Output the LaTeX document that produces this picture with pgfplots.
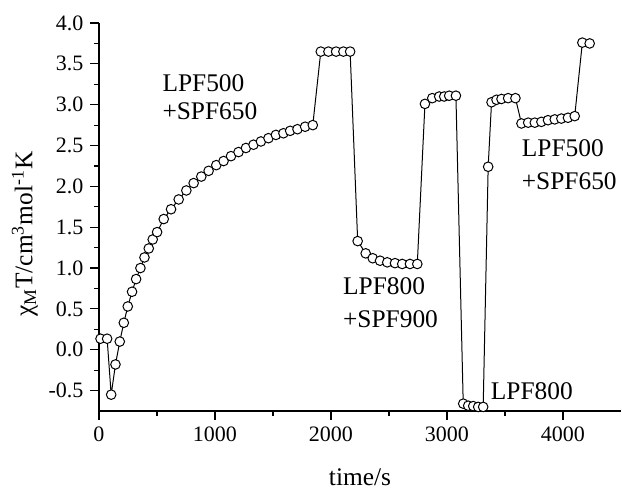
\documentclass[border=0pt]{standalone}
\usepackage{fontspec}
\setmainfont{Liberation Serif}
\usepackage{pgfplots}
\pgfplotsset{compat=1.18}
\begin{document}
\begin{tikzpicture}
\path[use as bounding box] (-49.5pt,-38.5pt) rectangle (261.5pt,205.5pt);
\begin{axis}[
  scale only axis, width=261pt, height=194pt,
  at={(0,0)}, anchor=south west,
  xmin=0, xmax=4500, ymin=-0.75, ymax=4.0,
  axis x line*=bottom, axis y line*=left,
  axis line style={line width=0.7pt},
  tick align=outside,
  major tick length=4.3pt, minor tick length=2.4pt,
  every tick/.style={black, line width=0.6pt},
  xtick={0,1000,2000,3000,4000},
  ytick={-0.5,0,0.5,1,1.5,2,2.5,3,3.5,4},
  minor x tick num=1, minor y tick num=1,
  /pgf/number format/assume math mode=true,
  xticklabel style={/pgf/number format/1000 sep={}, font=\fontsize{11pt}{12pt}\selectfont},
  yticklabel style={/pgf/number format/.cd, fixed, fixed zerofill, precision=1, /tikz/.cd, font=\fontsize{11pt}{12pt}\selectfont},
  xlabel={time/s},
  ylabel={χ\textsubscript{M}T/cm\textsuperscript{3}mol\textsuperscript{-1}K},
  label style={font=\fontsize{12.7pt}{14pt}\selectfont},
  xlabel style={at={(axis description cs:0.5,-0.191)}, anchor=base},
  ylabel style={at={(axis description cs:-0.142,0.456)}, anchor=center},
  clip=false,
]
\addplot[black, line width=0.5pt, mark=*, mark size=2.4pt, mark options={fill=white, draw=black, line width=0.5pt}] table {
t v
13 0.135
70 0.135
105 -0.55
142 -0.18
179 0.10
214 0.33
248 0.53
285 0.71
320 0.865
357 1.0
392 1.13
429 1.24
463 1.35
501 1.44
558 1.60
621 1.72
687 1.84
753 1.95
816 2.04
882 2.12
945 2.19
1011 2.26
1074 2.31
1138 2.37
1203 2.42
1267 2.47
1332 2.51
1396 2.55
1461 2.59
1525 2.63
1590 2.65
1648 2.68
1711 2.70
1777 2.73
1843 2.75
1912 3.65
1978 3.65
2044 3.65
2107 3.65
2165 3.65
2230 1.33
2299 1.18
2360 1.12
2423 1.09
2485 1.07
2552 1.06
2614 1.05
2681 1.05
2744 1.05
2810 3.01
2873 3.08
2933 3.10
2976 3.10
3019 3.11
3077 3.11
3140 -0.66
3183 -0.685
3226 -0.69
3269 -0.70
3312 -0.70
3355 2.24
3384 3.03
3427 3.06
3470 3.07
3527 3.08
3590 3.08
3642 2.77
3700 2.78
3757 2.78
3814 2.79
3871 2.81
3929 2.82
3986 2.83
4043 2.84
4101 2.86
4167 3.76
4230 3.75
};
\begin{scope}[every node/.style={font=\fontsize{12.7pt}{14pt}\selectfont, anchor=base west, inner sep=0pt}]
\node at (axis cs:544,3.16) {LPF500};
\node at (axis cs:544,2.815) {+SPF650};
\node at (axis cs:2101,0.673) {LPF800};
\node at (axis cs:2101,0.269) {+SPF900};
\node at (axis cs:3642,2.362) {LPF500};
\node at (axis cs:3642,1.958) {+SPF650};
\node at (axis cs:3375,-0.612) {LPF800};
\end{scope}
\end{axis}
\end{tikzpicture}
\end{document}
